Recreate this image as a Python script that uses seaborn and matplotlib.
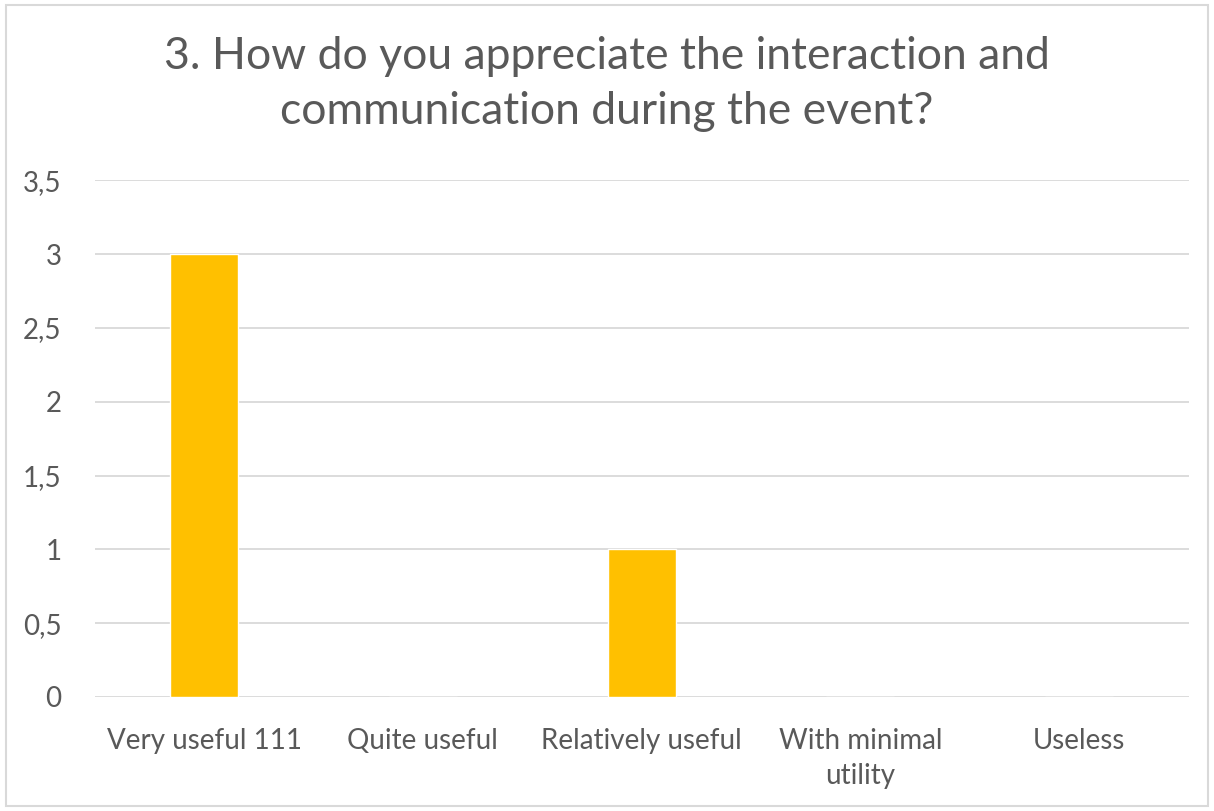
import matplotlib
matplotlib.use("Agg")
import matplotlib.pyplot as plt
import matplotlib.patches as mpatches
import seaborn as sns
import pandas as pd

categories = ["Very useful 111", "Quite useful", "Relatively useful", "With minimal\nutility", "Useless"]
counts = [3, 0, 1, 0, 0]
yticks = [0, 0.5, 1, 1.5, 2, 2.5, 3, 3.5]

sns.set_style("white")
plt.rcParams['font.family'] = ['Lato', 'DejaVu Sans']

text_color = '#595959'
grid_color = '#D9D9D9'

df = pd.DataFrame({"answer": categories, "count": counts})

fig = plt.figure(figsize=(12.14, 8.11), dpi=100)
ax = fig.add_axes([0.078, 0.1406, 0.901, 0.637])

sns.barplot(data=df, x="answer", y="count", color='#FFC000', width=0.31,
            saturation=1, ax=ax, zorder=3)

ax.set_ylim(0, 3.5)
ax.set_yticks(yticks)
ax.set_yticklabels([f"{t:g}".replace('.', ',') for t in yticks])
ax.yaxis.grid(True, color=grid_color, linewidth=1.3, zorder=0)
ax.set_axisbelow(True)
for s in ax.spines.values():
    s.set_visible(False)
ax.tick_params(axis='both', length=0, labelsize=20, colors=text_color)
ax.tick_params(axis='x', pad=22)
ax.tick_params(axis='y', pad=24)
for lbl in ax.get_xticklabels():
    lbl.set_linespacing(1.45)
ax.set_xlabel('')
ax.set_ylabel('')

fig.suptitle('3. How do you appreciate the interaction and\ncommunication during the event?',
             fontsize=32, color=text_color, y=0.955, linespacing=1.42)

# light border around the whole chart
fig.patches.append(mpatches.Rectangle((0.005, 0.006), 0.99, 0.988, transform=fig.transFigure,
                                      fill=False, edgecolor=grid_color, linewidth=1.5))

fig.savefig('out.png', dpi=100)
